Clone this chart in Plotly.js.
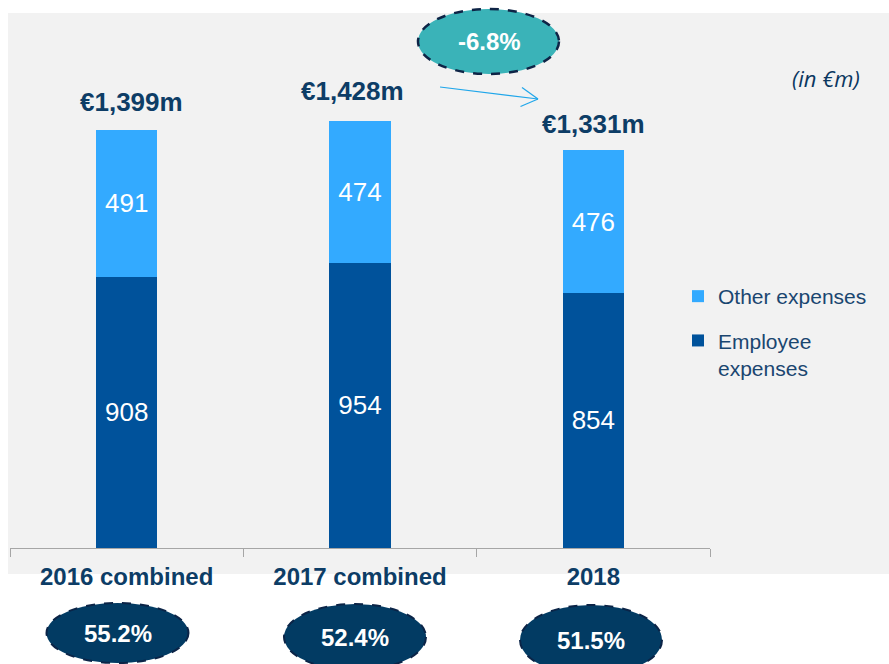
<!DOCTYPE html>
<html>
<head>
<meta charset="utf-8">
<script src="https://cdn.plot.ly/plotly-3.0.1.min.js"></script>
<style>
  html, body { margin: 0; padding: 0; background: #ffffff; }
  #chart { width: 889px; height: 664px; }
</style>
</head>
<body>
<div id="chart"></div>
<script>
// ---- data ----
const categories = ['2016 combined', '2017 combined', '2018'];
const employeeExpenses = [908, 954, 854];
const otherExpenses = [491, 474, 476];
const totals = [1399, 1428, 1331];
const totalLabels = ['€1,399m', '€1,428m', '€1,331m'];
const ratioLabels = ['55.2%', '52.4%', '51.5%'];
const changeLabel = '-6.8%';
const unitLabel = '(in €m)';

// ---- layout helpers (pixel -> paper) ----
const L = 10, R = 710, T = 13, B = 548;
const px = x => (x - L) / (R - L);
const py = y => (B - y) / (B - T);

const navy = '#0d3d66';
const font = 'Liberation Sans, Arial, Helvetica, sans-serif';

const traces = [
  {
    type: 'bar', name: 'Employee<br>expenses', x: categories, y: employeeExpenses,
    marker: { color: '#00529b' },
    text: employeeExpenses.map(String), textposition: 'inside', insidetextanchor: 'middle',
    textfont: { family: font, size: 26, color: '#ffffff' }, constraintext: 'none',
    hoverinfo: 'skip', legendgroup: 'emp', legendrank: 2
  },
  {
    type: 'bar', name: 'Other expenses', x: categories, y: otherExpenses,
    marker: { color: '#33aaff' },
    text: otherExpenses.map(String), textposition: 'inside', insidetextanchor: 'middle',
    textfont: { family: font, size: 26, color: '#ffffff' }, constraintext: 'none',
    hoverinfo: 'skip', legendgroup: 'oth', legendrank: 1
  }
];

const totalShiftX = [5, -8, 0];
const totalShiftY = [28, 30, 26];
const ratioShiftX = [-9, -5, -2];
const ratioY = [633, 637, 640];
const ratioRY = [30, 33, 35];

const annotations = [];
categories.forEach((c, i) => {
  annotations.push({
    x: i, y: totals[i], xref: 'x', yref: 'y', text: totalLabels[i],
    showarrow: false, xanchor: 'center', yanchor: 'middle',
    xshift: totalShiftX[i], yshift: totalShiftY[i],
    font: { family: font, size: 26, color: navy, weight: 'bold' }
  });
  annotations.push({
    x: i, y: py(ratioY[i]), xref: 'x', yref: 'paper', text: ratioLabels[i],
    showarrow: false, xanchor: 'center', yanchor: 'middle', xshift: ratioShiftX[i],
    font: { family: font, size: 24, color: '#ffffff', weight: 'bold' }
  });
});
annotations.push({
  x: px(489), y: py(42), xref: 'paper', yref: 'paper', text: changeLabel,
  showarrow: false, xanchor: 'center', yanchor: 'middle',
  font: { family: font, size: 24, color: '#ffffff', weight: 'bold' }
});
annotations.push({
  x: px(862), y: py(78), xref: 'paper', yref: 'paper', text: unitLabel,
  showarrow: false, xanchor: 'right', yanchor: 'middle',
  font: { family: 'Open Sans, Liberation Sans, sans-serif', size: 22, color: '#0b3760', style: 'italic' }
});

const shapes = [
  // grey panel
  { type: 'rect', xref: 'paper', yref: 'paper', x0: px(8), x1: px(889), y0: py(574), y1: py(13),
    fillcolor: '#f2f2f2', line: { width: 0 }, layer: 'below' },
  // change ellipse
  { type: 'circle', xref: 'paper', yref: 'paper', x0: px(418), x1: px(559), y0: py(74), y1: py(9),
    fillcolor: '#3ab3b8', line: { color: '#0e2446', width: 2.5, dash: 'dash' }, layer: 'below' },
  // arrow
  { type: 'line', xref: 'paper', yref: 'paper', x0: px(440), y0: py(87), x1: px(538), y1: py(99),
    line: { color: '#1fa6ea', width: 1.2 } },
  { type: 'line', xref: 'paper', yref: 'paper', x0: px(522), y0: py(87.5), x1: px(538), y1: py(99),
    line: { color: '#1fa6ea', width: 1.2 } },
  { type: 'line', xref: 'paper', yref: 'paper', x0: px(520.5), y0: py(106.5), x1: px(538), y1: py(99),
    line: { color: '#1fa6ea', width: 1.2 } }
];
const ratioCX = [117.5, 355, 591];
ratioCX.forEach((cx, i) => {
  shapes.push({
    type: 'circle', xref: 'paper', yref: 'paper',
    x0: px(cx - 71), x1: px(cx + 71), y0: py(ratioY[i] + ratioRY[i]), y1: py(ratioY[i] - ratioRY[i]),
    fillcolor: '#023b63', line: { color: '#0b2447', width: 2, dash: 'dash' }, layer: 'below'
  });
});

const layout = {
  width: 889, height: 664,
  margin: { l: L, r: 889 - R, t: T, b: 664 - B, pad: 0 },
  paper_bgcolor: '#ffffff', plot_bgcolor: 'rgba(0,0,0,0)',
  barmode: 'stack', bargap: 0.738,
  showlegend: true,
  legend: {
    x: px(678), y: py(276), xanchor: 'left', yanchor: 'top',
    traceorder: 'grouped', tracegroupgap: 14, valign: 'top',
    bgcolor: 'rgba(0,0,0,0)', font: { family: font, size: 21, color: '#1a4670' },
    itemwidth: 30
  },
  xaxis: {
    type: 'category', tickson: 'boundaries', ticks: 'outside', ticklen: 8,
    tickcolor: '#a6a6a6', showline: true, linecolor: '#a6a6a6', linewidth: 1,
    showgrid: false, zeroline: false, fixedrange: true, range: [-0.5, 2.5],
    tickfont: { family: font, size: 24, color: navy, weight: 'bold' },
    ticklabelstandoff: 7
  },
  yaxis: { range: [0, 1790], visible: false, fixedrange: true },
  annotations: annotations,
  shapes: shapes
};

Plotly.newPlot('chart', traces, layout, { displayModeBar: false, staticPlot: true });
</script>
</body>
</html>
